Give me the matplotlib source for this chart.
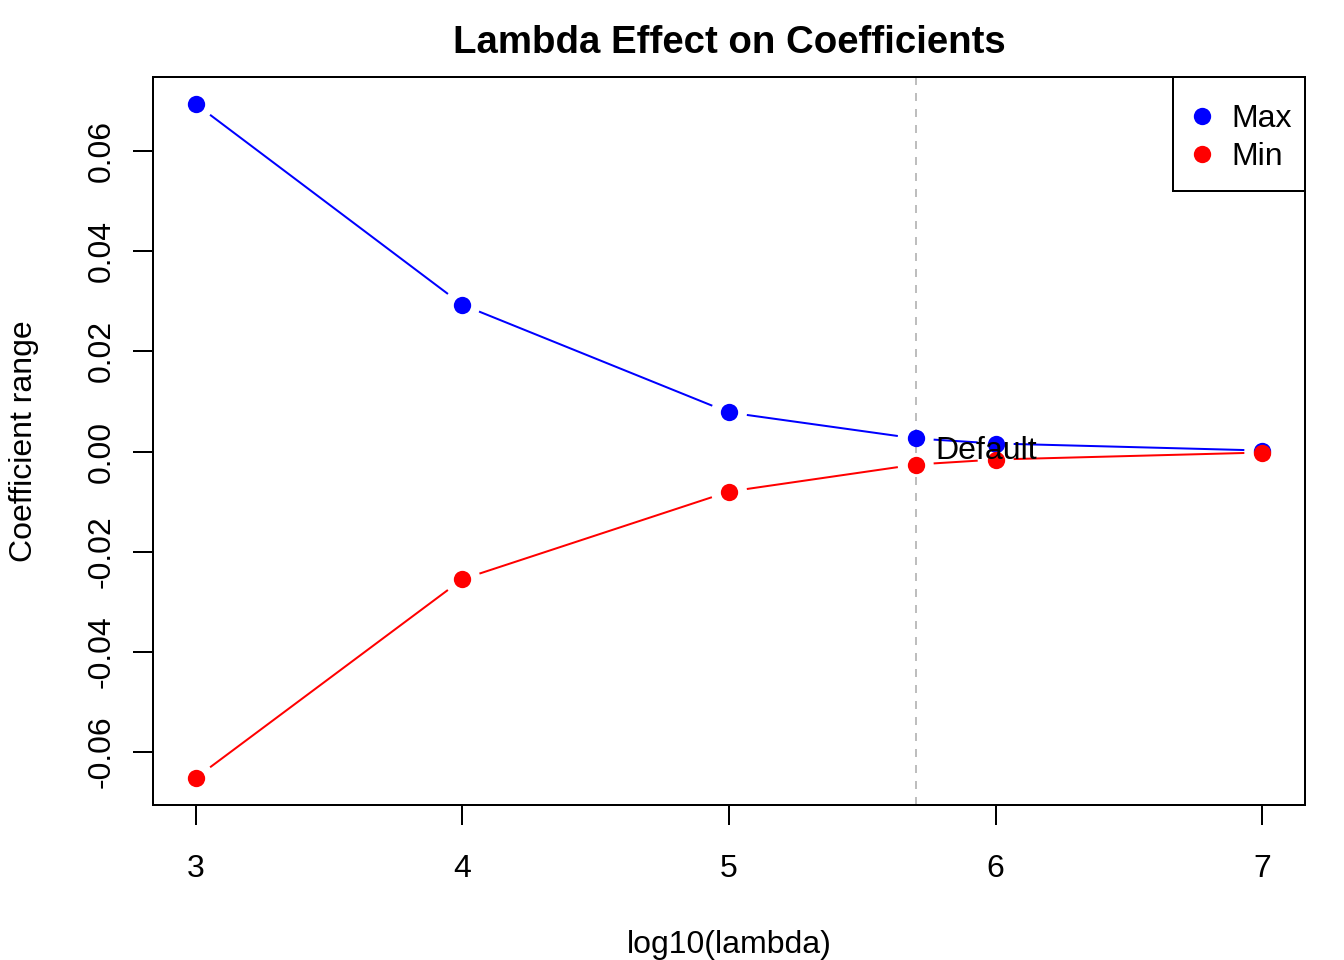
import numpy as np
import matplotlib
matplotlib.use("Agg")
import matplotlib.pyplot as plt
from matplotlib.lines import Line2D
from matplotlib.patches import Rectangle

plt.rcParams['font.family'] = ['Liberation Sans', 'DejaVu Sans']

# %% DATA
log_lambda = [3, 4, 5, 5.7, 6, 7]
coef_max = [0.0694, 0.0293, 0.0078, 0.0026, 0.0016, 0.0002]
coef_min = [-0.0652, -0.0255, -0.0080, -0.0026, -0.0016, -0.0002]
default_x = 5.7
x_ticks = [3, 4, 5, 6, 7]
y_ticks = [-0.06, -0.04, -0.02, 0.00, 0.02, 0.04, 0.06]

# %% HELPERS
def r_type_b(ax, x, y, color, gap_px=18):
    # lines with gaps round the points, like R's type = "b"
    pts = ax.transData.transform(np.column_stack([x, y]))
    inv = ax.transData.inverted()
    for p0, p1 in zip(pts[:-1], pts[1:]):
        d = p1 - p0
        length = np.hypot(*d)
        if length <= 2 * gap_px:
            continue
        u = d / length
        a = inv.transform(p0 + u * gap_px)
        b = inv.transform(p1 - u * gap_px)
        ax.plot([a[0], b[0]], [a[1], b[1]], color=color, lw=0.75,
                solid_capstyle='butt')
    ax.plot(x, y, 'o', color=color, ms=6.5, mew=0)

# %% PLOT
fig = plt.figure(figsize=(7, 5), dpi=192)
ax = fig.add_axes([153/1344, 1 - 805/960, (1305-153)/1344, (805-77)/960])

xr = max(log_lambda) - min(log_lambda)
yr = max(coef_max) - min(coef_min)
ax.set_xlim(min(log_lambda) - 0.04*xr, max(log_lambda) + 0.04*xr)
ax.set_ylim(min(coef_min) - 0.04*yr, max(coef_max) + 0.04*yr)

ax.axvline(default_x, color='#BEBEBE', lw=0.75, dashes=(4, 4))
r_type_b(ax, log_lambda, coef_max, 'blue')
r_type_b(ax, log_lambda, coef_min, 'red')
ax.text(default_x + 0.075, 0.0001, 'Default', fontsize=12, va='center', ha='left')

ax.set_xticks(x_ticks)
ax.set_xticklabels([str(t) for t in x_ticks])
ax.set_yticks(y_ticks)
ax.set_yticklabels([f'{t:.2f}' for t in y_ticks], rotation=90, va='center')
ax.tick_params(direction='out', length=7.5, width=0.75, labelsize=12)
ax.tick_params(axis='x', pad=11)
ax.tick_params(axis='y', pad=6)
for s in ax.spines.values():
    s.set_linewidth(0.75)

ax.set_xlabel('log10(lambda)', fontsize=12, labelpad=17)
ax.set_ylabel('Coefficient range', fontsize=12, labelpad=18)
ax.set_title('Lambda Effect on Coefficients', fontsize=14.4, fontweight='bold', pad=9)

# legend box drawn by hand, R style
ax.add_patch(Rectangle((0.8854, 0.8434), 0.1146, 0.1566, transform=ax.transAxes,
                       facecolor='white', edgecolor='black', lw=0.75, zorder=5,
                       clip_on=False))
handles = [Line2D([], [], ls='none', marker='o', color='blue', ms=6.5, mew=0),
           Line2D([], [], ls='none', marker='o', color='red', ms=6.5, mew=0)]
leg = ax.legend(handles, ['Max', 'Min'], loc='upper left',
                bbox_to_anchor=(0.9106, 0.9629), fontsize=12, frameon=False,
                borderaxespad=0, borderpad=0, handlelength=0.01,
                handletextpad=0.9, labelspacing=0.25)
leg.set_zorder(6)

fig.savefig('out.png', dpi=192)
